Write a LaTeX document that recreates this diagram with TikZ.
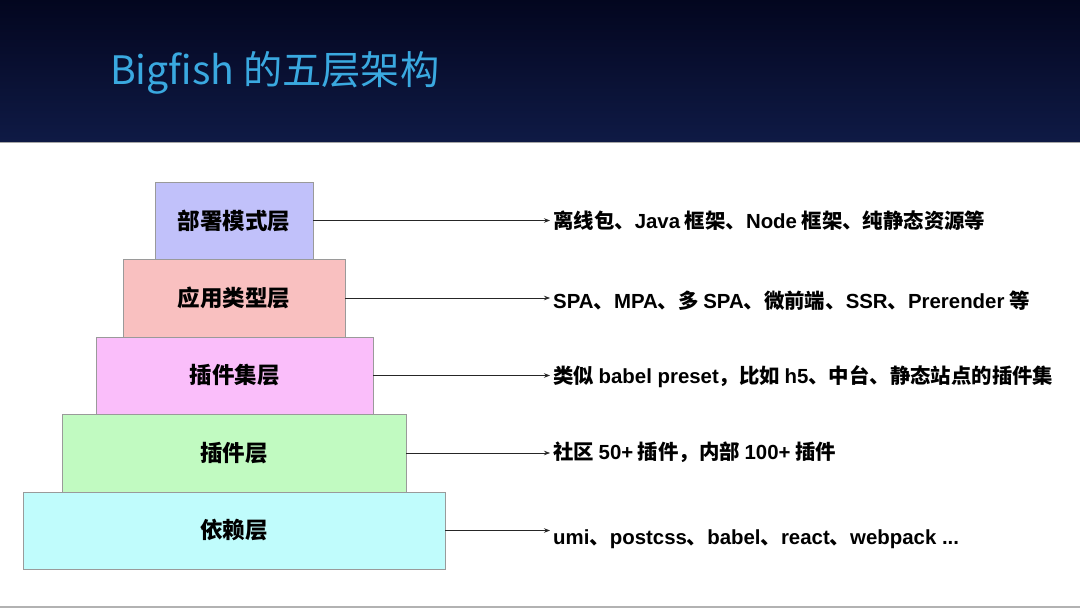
\documentclass[tikz,border=0pt]{standalone}
\usepackage{fontspec}
\setmainfont{Noto Sans CJK SC}
\newfontfamily\lat{Liberation Sans}
\usetikzlibrary{arrows.meta}
\definecolor{titleblue}{HTML}{3AA9E0}
\definecolor{hdtop}{HTML}{03061F}
\definecolor{hdbot}{HTML}{0F1A45}
\definecolor{cA}{HTML}{C1C1FA}
\definecolor{cB}{HTML}{F9C0C0}
\definecolor{cC}{HTML}{FABEFA}
\definecolor{cD}{HTML}{C1FAC1}
\definecolor{cE}{HTML}{C0FCFC}
\definecolor{edgegray}{HTML}{9A9A9A}
\newcommand{\latw}[1]{{\lat #1}}
\tikzset{
  layer/.style={draw=edgegray, line width=0.8pt, inner sep=0pt, font=\fontsize{22.5}{26}\selectfont\bfseries},
  desc/.style={anchor=west, inner sep=3pt, font=\fontsize{20.4}{24}\selectfont\bfseries},
  link/.style={draw=black!85, line width=0.7pt, -{Stealth[length=6pt,width=4.5pt]}}
}
\begin{document}
\begin{tikzpicture}[x=1pt,y=-1pt]
\useasboundingbox (0,0) rectangle (1080,609);
\fill[white] (0,0) rectangle (1080,609);
\shade[top color=hdtop, bottom color=hdbot] (0,0) rectangle (1080,142);
\draw[gray!70, line width=0.8pt] (0,142) -- (1080,142);
\draw[gray!60, line width=1.5pt] (0,607) -- (1080,607);
\node[anchor=base west, inner sep=0pt, text=titleblue, font=\fontsize{39.2}{46}\selectfont] (title) at (110,85) {Bigfish 的五层架构};

\node[layer, fill=cA, minimum width=158pt, minimum height=77pt] (L1) at (234,220.5) {部署模式层};
\node[layer, fill=cB, minimum width=222pt, minimum height=78pt] (L2) at (234,298) {应用类型层};
\node[layer, fill=cC, minimum width=277pt, minimum height=77pt] (L3) at (234.5,375.5) {插件集层};
\node[layer, fill=cD, minimum width=344pt, minimum height=78pt] (L4) at (234,453) {插件层};
\node[layer, fill=cE, minimum width=422pt, minimum height=77pt] (L5) at (234,530.5) {依赖层};

\node[desc] (D1) at (550,221) {离线包、\latw{Java} 框架、\latw{Node} 框架、纯静态资源等};
\node[desc] (D2) at (550,301) {\latw{SPA}、\latw{MPA}、多 \latw{SPA}、微前端、\latw{SSR}、\latw{Prerender} 等};
\node[desc] (D3) at (550,377) {类似 \latw{babel preset}，比如 \latw{h5}、中台、静态站点的插件集};
\node[desc] (D4) at (550,452) {社区 \latw{50+} 插件，内部 \latw{100+} 插件};
\node[desc] (D5) at (550,539) {\latw{umi}、\latw{postcss}、\latw{babel}、\latw{react}、\latw{webpack ...}};

\draw[link] (L1.east) -- (L1.east -| D1.west);
\draw[link] (L2.east) -- (L2.east -| D2.west);
\draw[link] (L3.east) -- (L3.east -| D3.west);
\draw[link] (L4.east) -- (L4.east -| D4.west);
\coordinate (e5) at (D5.west |- L5.east);
\draw[link] (L5.east) -- (e5);
\end{tikzpicture}
\end{document}
